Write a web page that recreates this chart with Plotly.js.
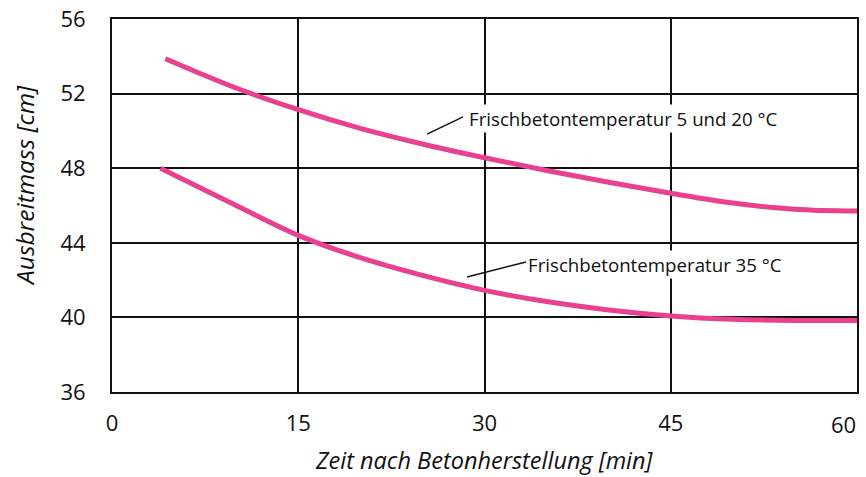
<!DOCTYPE html>
<html>
<head>
<meta charset="utf-8">
<script src="https://cdn.plot.ly/plotly-3.0.1.min.js"></script>
<style>html,body{margin:0;padding:0;background:#fff;}#chart{width:866px;height:477px;}</style>
</head>
<body>
<div id="chart"></div>
<script>
const minutes520 = [4.3, 10, 15, 20, 25, 30, 35, 40, 45, 50, 55, 60];
const spread520 = [53.87, 52.3, 51.14, 50.14, 49.3, 48.56, 47.88, 47.25, 46.66, 46.13, 45.8, 45.7];
const minutes35 = [3.9, 10, 15, 20, 25, 30, 35, 40, 45, 50, 55, 60];
const spread35 = [48.0, 46.0, 44.4, 43.2, 42.25, 41.45, 40.85, 40.4, 40.08, 39.9, 39.84, 39.84];
const xTicks = [0, 15, 30, 45, 60];
const yTicks = [36, 40, 44, 48, 52, 56];
const label520 = "Frischbetontemperatur 5 und 20 °C";
const label35 = "Frischbetontemperatur 35 °C";
const xTitle = "Zeit nach Betonherstellung [min]";
const yTitle = "Ausbreitmass [cm]";

const pink = "#e9418f";
const ink = "#111";
const font = "Open Sans, Noto Sans, sans-serif";

const traces = [
  {x: minutes520, y: spread520, mode: "lines", line: {color: pink, width: 5, shape: "spline", smoothing: 1}, hoverinfo: "skip"},
  {x: minutes35, y: spread35, mode: "lines", line: {color: pink, width: 5, shape: "spline", smoothing: 1}, hoverinfo: "skip"}
];

// the last x tick label sits right-aligned at the plot edge, as in the reference
const lastTick = xTicks[xTicks.length - 1];
const xTickText = xTicks.map(v => (v === lastTick ? "" : String(v)));

const tickFont = {size: 22, family: font, color: ink};

const layout = {
  width: 866, height: 477,
  margin: {l: 112, r: 9, t: 19, b: 85},
  paper_bgcolor: "#fff", plot_bgcolor: "#fff",
  showlegend: false,
  font: {family: font, color: ink},
  xaxis: {
    range: [0, 60], tickvals: xTicks, ticktext: xTickText,
    showgrid: true, gridcolor: ink, gridwidth: 2,
    showline: true, linecolor: ink, linewidth: 2, mirror: true,
    zeroline: false, ticks: "", ticklabelstandoff: 11,
    tickfont: tickFont
  },
  yaxis: {
    range: [36, 56], tickvals: yTicks, ticktext: yTicks.map(String),
    showgrid: true, gridcolor: ink, gridwidth: 2,
    showline: true, linecolor: ink, linewidth: 2, mirror: true,
    zeroline: false, ticks: "", ticklabelstandoff: 20,
    tickfont: tickFont
  },
  shapes: [
    {type: "line", x0: 25.37, y0: 49.83, x1: 28.27, y1: 50.75, line: {color: ink, width: 1.5}},
    {type: "line", x0: 28.59, y0: 42.17, x1: 33.34, y1: 42.97, line: {color: ink, width: 1.5}}
  ],
  annotations: [
    {x: 28.6, y: 50.69, text: label520, showarrow: false, xanchor: "left", yanchor: "middle",
     bgcolor: "#fff", borderpad: 1, font: {size: 18.7, family: font, color: ink}},
    {x: 33.35, y: 42.81, text: label35, showarrow: false, xanchor: "left", yanchor: "middle",
     bgcolor: "#fff", borderpad: 1, font: {size: 18.7, family: font, color: ink}},
    {xref: "paper", yref: "paper", x: -0.1168, y: 0.555, text: "<i>" + yTitle + "</i>", showarrow: false, textangle: -90,
     font: {size: 24.5, family: font, color: ink}, xanchor: "center", yanchor: "middle"},
    {xref: "paper", yref: "paper", x: 0.5, y: -0.182, text: "<i>" + xTitle + "</i>", showarrow: false,
     font: {size: 23.5, family: font, color: ink}, xanchor: "center", yanchor: "middle", borderpad: 0},
    {xref: "x", yref: "paper", x: lastTick, y: -0.087, text: String(lastTick), showarrow: false,
     xanchor: "right", yanchor: "middle", xshift: 1, font: tickFont}
  ]
};

Plotly.newPlot("chart", traces, layout, {displayModeBar: false, staticPlot: true});
</script>
</body>
</html>
